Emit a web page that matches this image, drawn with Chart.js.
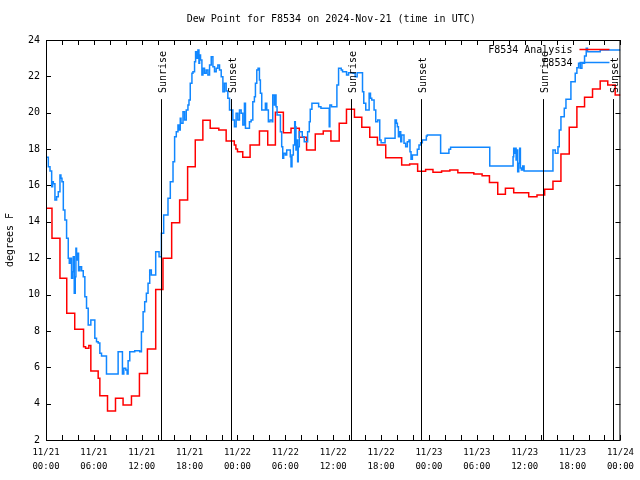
<!DOCTYPE html>
<html>
<head>
<meta charset="utf-8">
<script src="https://cdn.jsdelivr.net/npm/chart.js@4.4.1/dist/chart.umd.min.js"></script>
<style>
  html, body { margin: 0; padding: 0; background: #fff; }
  canvas { display: block; }
</style>
</head>
<body>
<canvas id="c" width="640" height="480"></canvas>
<script>
// ---------- DATA ----------
const chartTitle = 'Dew Point for F8534 on 2024-Nov-21 (time in UTC)';
const yAxisTitle = 'degrees F';
const xTickDates = ['11/21','11/21','11/21','11/21','11/22','11/22','11/22','11/22','11/23','11/23','11/23','11/23','11/24'];
const xTickTimes = ['00:00','06:00','12:00','18:00','00:00','06:00','12:00','18:00','00:00','06:00','12:00','18:00','00:00'];

// hours since 11/21 00:00 UTC
const eventNames = ['Sunrise','Sunset','Sunrise','Sunset','Sunrise','Sunset'];
const eventHours = [14.37, 23.17, 38.29, 47.04, 62.34, 71.04];

// Analysis series (red)
const analysisHours = [0,0.75,1.75,2.6,3.6,4.71,4.96,5.37,5.62,6.54,6.75,7.71,8.71,9.66,10.71,11.71,12.71,13.75,14.66,15.75,16.75,17.75,18.71,19.66,20.58,21.66,22.58,23.6,23.8,24.0,24.66,25.58,26.75,27.79,28.75,29.75,30.71,31.75,32.66,33.75,34.75,35.71,36.75,37.66,38.66,39.58,40.58,41.54,42.58,44.58,45.58,46.58,47.58,48.5,49.58,50.62,51.62,53.62,54.66,55.58,56.62,57.58,58.62,60.5,61.54,62.5,63.54,64.54,65.58,66.54,67.5,68.5,69.46,70.41,71.34,72];
const analysisValues = [14.74,13.09,10.89,8.97,8.09,7.13,7.05,7.2,5.79,5.39,4.44,3.59,4.29,3.92,4.42,5.66,7.0,10.28,11.99,13.95,15.2,17.03,18.5,19.58,19.14,19.05,18.44,18.22,18.0,17.85,17.55,18.22,19.0,18.22,20.02,18.9,19.14,18.65,17.95,18.83,19.0,18.44,19.42,20.19,19.75,19.2,18.65,18.22,17.53,17.12,17.18,16.78,16.88,16.72,16.79,16.85,16.7,16.63,16.54,16.16,15.51,15.84,15.6,15.38,15.47,15.79,16.23,17.73,19.2,20.33,20.85,21.3,21.74,21.52,20.98,20.98];

// Station series (blue)
const stationHours = [0,0.29,0.5,0.71,0.83,0.92,1.12,1.33,1.54,1.75,1.87,2.0,2.17,2.37,2.58,2.79,2.92,3.08,3.2,3.33,3.42,3.54,3.67,3.75,3.83,3.96,4.08,4.25,4.46,4.67,4.87,5.08,5.29,5.62,6.12,6.33,6.54,6.75,6.96,7.58,9.04,9.58,9.75,10.0,10.17,10.29,10.5,11.12,11.75,11.96,12.17,12.37,12.58,12.79,13.0,13.2,13.75,14.17,14.46,14.75,15.29,15.58,15.92,16.12,16.33,16.54,16.67,16.83,16.92,17.17,17.37,17.58,17.79,17.92,18.08,18.29,18.42,18.62,18.75,18.87,19.04,19.17,19.25,19.37,19.54,19.67,19.87,20.08,20.29,20.5,20.71,20.92,21.12,21.33,21.54,21.75,21.96,22.17,22.37,22.58,22.79,23.0,23.42,23.62,23.83,24.04,24.25,24.46,24.67,24.87,25.0,25.5,25.71,25.92,26.12,26.25,26.42,26.58,26.75,26.87,27.04,27.5,27.67,27.87,28.08,28.33,28.42,28.62,28.75,28.83,28.96,29.38,29.54,29.67,29.79,30.0,30.17,30.62,30.71,30.83,31.0,31.17,31.25,31.33,31.46,31.54,31.62,31.75,32.12,32.37,32.79,33.0,33.12,33.33,34.17,34.46,35.5,35.58,35.79,36.46,36.67,37.0,37.17,37.67,37.92,38.5,38.75,39.0,39.67,39.83,40.08,40.5,40.67,40.83,41.12,41.33,41.58,41.83,42.0,42.5,43.75,43.92,44.04,44.17,44.33,44.46,44.58,44.87,45.08,45.29,45.5,45.62,45.75,45.92,46.54,46.75,46.96,47.17,47.67,47.79,49.46,50.5,50.71,55.62,58.54,58.62,58.75,58.83,58.92,59.04,59.12,59.25,59.37,59.46,59.58,59.75,59.92,63.54,63.83,64.17,64.33,64.54,64.96,65.17,65.79,66.33,66.54,66.75,66.96,67.17,67.5,67.71,67.87,69.46,72];
const stationValues = [17.55,17.03,16.8,15.93,16.2,16.1,15.2,15.38,15.66,16.57,16.39,16.2,14.65,14.1,13.09,11.99,11.72,11.99,10.89,11.26,12.08,10.07,10.98,12.54,11.9,12.27,11.31,11.53,11.31,10.98,9.88,9.24,8.32,8.6,7.59,7.41,7.33,6.77,6.62,5.63,6.86,5.63,5.94,5.85,5.63,6.36,6.86,6.91,6.86,7.96,9.06,9.61,10.07,10.62,11.35,11.07,12.36,12.08,13.37,14.37,15.29,16.2,17.31,18.68,18.96,19.32,19.05,19.69,19.42,20.06,19.6,20.15,20.42,20.7,21.62,22.17,22.26,22.81,23.36,23.0,23.45,22.72,23.17,22.9,22.07,22.44,22.17,22.35,22.07,22.62,23.08,22.53,22.26,22.44,22.62,22.35,21.98,21.16,21.62,21.2,20.79,20.15,19.6,19.23,19.97,19.6,20.15,19.97,19.32,20.52,19.14,19.51,19.6,20.61,20.88,21.62,22.35,22.44,21.8,21.07,20.15,20.52,20.15,19.51,19.6,19.51,20.98,20.42,20.98,20.33,19.88,18.96,18.13,17.49,17.77,17.68,17.95,17.58,17.03,17.68,18.22,19.51,19.23,17.95,18.5,17.31,18.13,18.96,18.68,18.41,18.96,19.51,20.19,20.52,20.33,20.24,19.23,20.42,20.33,21.52,22.44,22.35,22.26,22.07,22.2,22.17,21.98,22.2,21.16,20.52,20.15,21.07,20.8,20.7,20.15,19.51,19.6,18.5,18.35,18.6,19.6,19.42,19.23,18.68,18.96,18.41,18.78,18.32,18.13,18.41,18.5,17.86,17.44,17.68,17.99,18.22,18.35,18.5,18.72,18.78,17.77,17.99,18.1,17.07,17.58,18.04,17.77,18.04,17.4,17.95,16.76,17.22,18.04,16.96,16.85,17.07,16.79,17.95,17.77,18.13,19.05,19.78,20.24,20.74,21.71,22.17,22.48,22.72,22.44,22.72,23.12,23.54,23.36,23.45,23.45];

const seriesNames = ['F8534 Analysis', 'F8534'];
const seriesColors = ['#ff0000', '#1187ff'];
const eventLineTopValue = 20.75;   // degrees F level where sun event lines start

// ---------- BUILD ----------
const toPts = (hs, vs) => hs.map((h, i) => ({ x: h, y: vs[i] }));
const FONT = "'DejaVu Sans Mono', 'Liberation Mono', monospace";

const decor = {
  id: 'decor',
  afterDatasetsDraw(chart) {
    const { ctx, chartArea: a, scales: { x, y } } = chart;
    ctx.save();
    // sunrise / sunset lines
    ctx.strokeStyle = '#000';
    ctx.lineWidth = 1;
    const topPx = y.getPixelForValue(eventLineTopValue);
    eventHours.forEach((h, i) => {
      const px = Math.round(x.getPixelForValue(h)) + 0.5;
      ctx.beginPath();
      ctx.moveTo(px, topPx);
      ctx.lineTo(px, a.bottom);
      ctx.stroke();
      ctx.save();
      ctx.translate(px + 1.5, topPx - 6);
      ctx.rotate(-Math.PI / 2);
      ctx.fillStyle = '#000';
      ctx.font = '10px ' + FONT;
      ctx.textAlign = 'left';
      ctx.textBaseline = 'middle';
      ctx.fillText(eventNames[i], 0, 0);
      ctx.restore();
    });
    // border
    ctx.strokeRect(a.left + 0.5, a.top + 0.5, a.right - a.left - 1, a.bottom - a.top);
    // inward ticks
    ctx.beginPath();
    for (let h = 0; h <= 72; h += 2) {
      const px = Math.round(x.getPixelForValue(h)) + 0.5;
      ctx.moveTo(px, a.bottom); ctx.lineTo(px, a.bottom - 5);
      ctx.moveTo(px, a.top); ctx.lineTo(px, a.top + 5);
    }
    for (let v = 2; v <= 24; v += 2) {
      const py = Math.round(y.getPixelForValue(v)) + 0.5;
      ctx.moveTo(a.left, py); ctx.lineTo(a.left + 5, py);
      ctx.moveTo(a.right, py); ctx.lineTo(a.right - 5, py);
    }
    ctx.stroke();
    // title
    ctx.fillStyle = '#000';
    ctx.font = '10px ' + FONT;
    ctx.textAlign = 'center';
    ctx.textBaseline = 'middle';
    ctx.fillText(chartTitle, (a.left + a.right) / 2 - 2, 19);
    // y title
    ctx.save();
    ctx.translate(10, (a.top + a.bottom) / 2);
    ctx.rotate(-Math.PI / 2);
    ctx.fillText(yAxisTitle, 0, 0);
    ctx.restore();
    // legend
    ctx.textAlign = 'right';
    seriesNames.forEach((n, i) => {
      const ly = a.top + 10 + i * 13;
      ctx.fillStyle = '#000';
      ctx.fillText(n, a.right - 48, ly);
      ctx.strokeStyle = seriesColors[i];
      ctx.lineWidth = 1.5;
      ctx.beginPath();
      ctx.moveTo(a.right - 41, ly - 0.5);
      ctx.lineTo(a.right - 11, ly - 0.5);
      ctx.stroke();
    });
    ctx.restore();
  }
};

new Chart(document.getElementById('c').getContext('2d'), {
  type: 'line',
  data: {
    datasets: [
      { label: seriesNames[0], data: toPts(analysisHours, analysisValues), borderColor: seriesColors[0],
        borderWidth: 1.5, stepped: 'before', pointRadius: 0, fill: false, order: 1 },
      { label: seriesNames[1], data: toPts(stationHours, stationValues), borderColor: seriesColors[1],
        borderWidth: 1.5, stepped: 'before', pointRadius: 0, fill: false, order: 0 }
    ]
  },
  options: {
    responsive: false,
    animation: false,
    devicePixelRatio: 1,
    layout: { padding: { left: 0, right: 18, top: 40, bottom: 0 } },
    plugins: { legend: { display: false }, title: { display: false }, tooltip: { enabled: false } },
    scales: {
      x: {
        type: 'linear', min: 0, max: 72,
        afterFit(s) { s.height = 40; },
        grid: { display: false, drawTicks: false },
        border: { display: false },
        ticks: {
          stepSize: 6, autoSkip: false, maxRotation: 0, padding: 6, color: '#000',
          font: { family: FONT, size: 9, lineHeight: '14px' },
          callback: (v) => { const i = Math.round(v / 6); return [xTickDates[i], xTickTimes[i]]; }
        }
      },
      y: {
        min: 2, max: 24,
        afterFit(s) { s.width = 46; },
        grid: { display: false, drawTicks: false },
        border: { display: false },
        ticks: { stepSize: 2, padding: 6, color: '#000', font: { family: FONT, size: 10 } }
      }
    }
  },
  plugins: [decor]
});
</script>
</body>
</html>
